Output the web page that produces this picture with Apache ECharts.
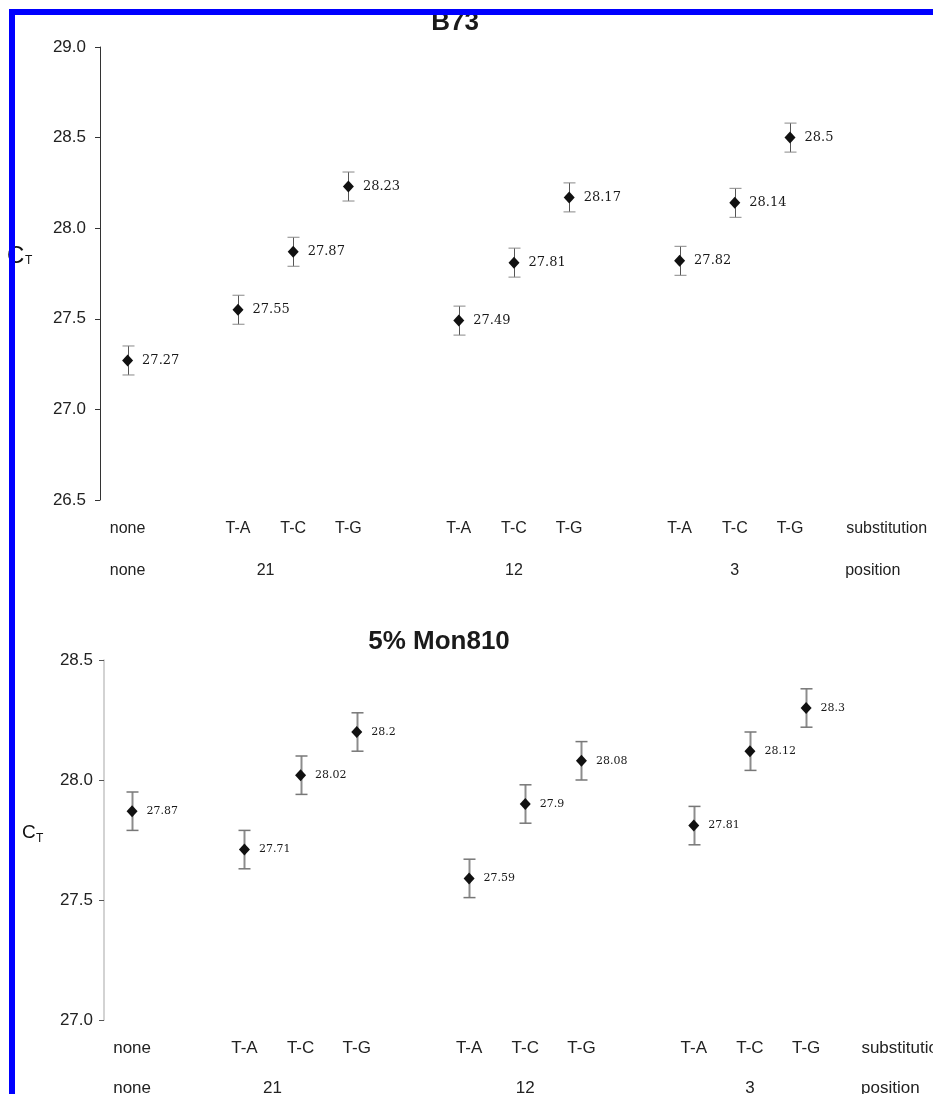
<!DOCTYPE html>
<html>
<head>
<meta charset="utf-8">
<script src="https://cdn.jsdelivr.net/npm/echarts@6/dist/echarts.min.js"></script>
<style>
  html, body { margin: 0; padding: 0; background: #fff; }
  #chart { width: 933px; height: 1094px; }
  #frame {
    position: absolute; left: 9px; top: 9px; right: 0; bottom: 0;
    border-top: 6px solid #0000ff; border-left: 6px solid #0000ff;
    pointer-events: none;
  }
</style>
</head>
<body>
<div id="chart"></div>
<div id="frame"></div>
<script>
// Substitution label for each measured sample and its slot along the x axis
const substitutions = ['none', 'T-A', 'T-C', 'T-G', 'T-A', 'T-C', 'T-G', 'T-A', 'T-C', 'T-G'];
const slots = [0, 2, 3, 4, 6, 7, 8, 10, 11, 12];

// Mismatch position row (labels and the slot each is centred on)
const positionNames = ['none', '21', '12', '3'];
const positionSlots = [0, 2.5, 7, 11];

// Row captions at the right end of the two label rows
const substitutionCaption = 'substitution';
const substitutionCaptionSlot = 13.75;
const positionCaption = 'position';
const positionCaptionSlot = 13.5;

// B73 panel: mean CT and error
const b73Ct = [27.27, 27.55, 27.87, 28.23, 27.49, 27.81, 28.17, 27.82, 28.14, 28.5];
const b73Err = [0.08, 0.08, 0.08, 0.08, 0.08, 0.08, 0.08, 0.08, 0.08, 0.08];

// 5% Mon810 panel: mean CT and error
const monCt = [27.87, 27.71, 28.02, 28.2, 27.59, 27.9, 28.08, 27.81, 28.12, 28.3];
const monErr = [0.08, 0.08, 0.08, 0.08, 0.08, 0.08, 0.08, 0.08, 0.08, 0.08];

// Y axis ranges
const b73Range = { min: 26.5, max: 29.0, step: 0.5 };
const monRange = { min: 27.0, max: 28.5, step: 0.5 };

const sans = "'Liberation Sans', Arial, sans-serif";
const serif = "'DejaVu Serif', serif";

const subRowLabels = substitutions.concat([substitutionCaption]);
const subRowSlots = slots.concat([substitutionCaptionSlot]);
const posRowLabels = positionNames.concat([positionCaption]);
const posRowSlots = positionSlots.concat([positionCaptionSlot]);

function rowFormatter(labels, at) {
  return function (v) {
    for (let i = 0; i < at.length; i++) {
      if (Math.abs(at[i] - v) < 1e-6) return labels[i];
    }
    return '';
  };
}

function xAxisPair(gridIndex, xMax, fontSize, margin1, margin2) {
  const base = {
    type: 'value', gridIndex: gridIndex, min: -0.5, max: xMax, interval: 0.25,
    position: 'bottom',
    axisLine: { show: false, onZero: false }, axisTick: { show: false }, splitLine: { show: false }
  };
  return [
    Object.assign({}, base, {
      axisLabel: { margin: margin1, color: '#222', fontFamily: sans, fontSize: fontSize,
        showMaxLabel: true, formatter: rowFormatter(subRowLabels, subRowSlots) }
    }),
    Object.assign({}, base, {
      axisLabel: { margin: margin2, color: '#222', fontFamily: sans, fontSize: fontSize,
        showMaxLabel: true, formatter: rowFormatter(posRowLabels, posRowSlots) }
    })
  ];
}

function yAxisFor(gridIndex, range, lineColor, lineWidth, tickColor, margin) {
  return {
    type: 'value', gridIndex: gridIndex, min: range.min, max: range.max, interval: range.step,
    position: 'left',
    axisLine: { show: true, onZero: false, lineStyle: { color: lineColor, width: lineWidth } },
    axisTick: { show: true, inside: false, length: 5, lineStyle: { color: tickColor } },
    splitLine: { show: false },
    axisLabel: { margin: margin, color: '#222', fontFamily: sans, fontSize: 17,
      formatter: function (v) { return v.toFixed(1); } }
  };
}

function errorBarSeries(xIdx, yIdx, values, errs, stemColor, stemWidth, capColor, capWidth) {
  return {
    type: 'custom', xAxisIndex: xIdx, yAxisIndex: yIdx, z: 2,
    data: values.map(function (v, i) { return [slots[i], v - errs[i], v + errs[i]]; }),
    renderItem: function (params, api) {
      const x = api.value(0);
      const lo = api.coord([x, api.value(1)]);
      const hi = api.coord([x, api.value(2)]);
      const cx = Math.round(lo[0]) + 0.5;
      const half = 6;
      return {
        type: 'group',
        children: [
          { type: 'line', shape: { x1: cx, y1: hi[1], x2: cx, y2: lo[1] },
            style: { stroke: stemColor, lineWidth: stemWidth } },
          { type: 'line', shape: { x1: cx - half, y1: hi[1], x2: cx + half, y2: hi[1] },
            style: { stroke: capColor, lineWidth: capWidth } },
          { type: 'line', shape: { x1: cx - half, y1: lo[1], x2: cx + half, y2: lo[1] },
            style: { stroke: capColor, lineWidth: capWidth } }
        ]
      };
    }
  };
}

function pointSeries(xIdx, yIdx, values, labelSize) {
  return {
    type: 'scatter', xAxisIndex: xIdx, yAxisIndex: yIdx, z: 3,
    symbol: 'diamond', symbolSize: [11, 12],
    itemStyle: { color: '#111', opacity: 1 },
    data: values.map(function (v, i) { return [slots[i], v]; }),
    label: {
      show: true, position: 'right', distance: 9, opacity: 1,
      color: '#1a1a1a', fontFamily: serif, fontSize: labelSize,
      formatter: function (p) { return String(p.value[1]); }
    },
    emphasis: { disabled: true }
  };
}

// The lower panel runs off the right edge, so its slot range stops short
const topX = xAxisPair(0, 14.5, 16, 21, 63);
const botX = xAxisPair(1, 14.25, 17, 20, 60);

const chart = echarts.init(document.getElementById('chart'), null, { renderer: 'canvas' });
chart.setOption({
  animation: false,
  backgroundColor: '#fff',
  grid: [
    { left: 100, top: 47, width: 828, height: 453, outerBoundsMode: 'none', containLabel: false },
    { left: 104, top: 660, width: 828.5, height: 360, outerBoundsMode: 'none', containLabel: false }
  ],
  xAxis: [topX[0], topX[1], botX[0], botX[1]],
  yAxis: [
    yAxisFor(0, b73Range, '#333', 1, '#333', 14),
    yAxisFor(1, monRange, '#c4c4c4', 1.5, '#555', 11)
  ],
  graphic: [
    { type: 'text', x: 455, y: 23, style: { text: 'B73', fill: '#1a1a1a',
      font: 'bold 26px ' + sans, textAlign: 'center', textVerticalAlign: 'middle' } },
    { type: 'text', x: 439, y: 642, style: { text: '5% Mon810', fill: '#1a1a1a',
      font: 'bold 26px ' + sans, textAlign: 'center', textVerticalAlign: 'middle' } },
    { type: 'text', x: 7, y: 256, style: { text: 'C', fill: '#111',
      font: '24px ' + sans, textAlign: 'left', textVerticalAlign: 'middle' } },
    { type: 'text', x: 25, y: 261, style: { text: 'T', fill: '#111',
      font: '12px ' + sans, textAlign: 'left', textVerticalAlign: 'middle' } },
    { type: 'text', x: 22, y: 833, style: { text: 'C', fill: '#111',
      font: '19px ' + sans, textAlign: 'left', textVerticalAlign: 'middle' } },
    { type: 'text', x: 36, y: 839, style: { text: 'T', fill: '#111',
      font: '12px ' + sans, textAlign: 'left', textVerticalAlign: 'middle' } }
  ],
  series: [
    errorBarSeries(0, 0, b73Ct, b73Err, '#555', 1, '#888', 1),
    pointSeries(0, 0, b73Ct, 13),
    errorBarSeries(2, 1, monCt, monErr, '#8c8c8c', 2, '#777', 1.5),
    pointSeries(2, 1, monCt, 11)
  ]
});
</script>
</body>
</html>
